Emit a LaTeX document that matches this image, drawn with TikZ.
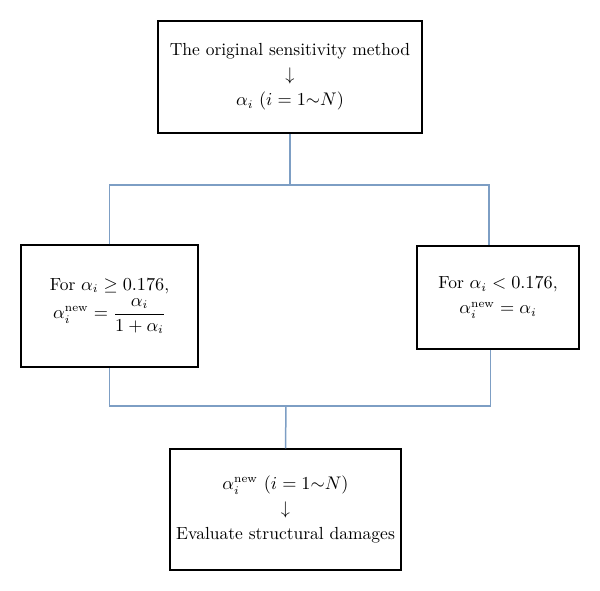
\documentclass[tikz,border=0pt]{standalone}
\usepackage{amsmath}
\usepackage{amssymb}
\usepackage{tikz}
\usepackage{xcolor}

\definecolor{linkblue}{RGB}{125,158,196}

\begin{document}
\begin{tikzpicture}[x=0.6pt, y=-0.6pt,
        every node/.style={draw, line width=0.9pt, inner sep=0pt, align=center,
                           font=\fontsize{10.5}{15}\selectfont},
        link/.style={draw=linkblue, line width=0.9pt}]
                \useasboundingbox (0,0) rectangle (600,591);

                \node[minimum width=158.4pt, minimum height=67.2pt] (top) at (290,77)
                    {The original sensitivity method\\ $\downarrow$\\ $\alpha_i$ $(i = 1{\sim}N)$};

                \node[minimum width=106.2pt, minimum height=73.2pt] (left) at (109.5,306)
                    {For $\alpha_i \geq 0.176$,\\[2pt] $\alpha_i^{\mathrm{new}} = \dfrac{\alpha_i}{1+\alpha_i}$};
                \node[minimum width=97.2pt, minimum height=61.8pt] (right) at (498,297.5)
                    {For $\alpha_i < 0.176$,\\ $\alpha_i^{\mathrm{new}} = \alpha_i$};

                \node[minimum width=138.6pt, minimum height=72.6pt] (bottom) at (285.5,509.5)
                    {$\alpha_i^{\mathrm{new}}$ $(i = 1{\sim}N)$\\ $\downarrow$\\ Evaluate structural damages};

                \coordinate (split) at (290,185);
                \coordinate (merge) at (286,406);

                \draw[link] (top.south) -- (split);
                \draw[link] (left.north) |- (split) -| (right.100);
                \draw[link] (left.south) |- (merge) -| (right.262);
                \draw[link] (merge) -- (bottom.north);
            \end{tikzpicture}
\end{document}
